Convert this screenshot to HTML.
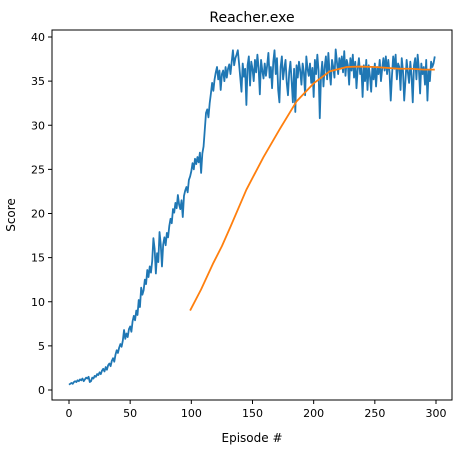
<!DOCTYPE html>
<html><head><meta charset="utf-8"><style>
body{margin:0;background:#fff;}
svg{display:block;font-family:"DejaVu Sans","Liberation Sans",sans-serif;}
</style></head><body>
<svg id="chart" width="467" height="450" xmlns="http://www.w3.org/2000/svg">
<rect width="467" height="450" fill="#fff"/>
<g id="plot"></g>
<text x="252" y="22" text-anchor="middle" font-size="14" fill="#000">Reacher.exe</text>
<text x="252" y="442" text-anchor="middle" font-size="12" fill="#000">Episode #</text>
<text x="15" y="215" text-anchor="middle" font-size="12" fill="#000" transform="rotate(-90 15 215)">Score</text>
</svg>
<script>
const scores = [
0.6,0.7,0.8,0.7,0.9,1.0,0.9,1.1,1.0,1.2,1.1,1.3,1.0,1.2,1.4,1.3,1.5,0.9,1.0,1.4,
1.3,1.6,1.5,1.8,1.7,2.0,1.8,2.2,2.4,2.1,2.6,2.3,2.8,3.0,2.7,3.3,3.6,3.2,4.0,4.5,
4.2,4.8,5.2,4.9,5.6,6.8,5.8,6.4,6.0,6.9,7.2,6.6,7.8,8.4,7.9,9.0,8.5,10.2,9.4,11.6,
10.8,11.3,12.5,12.0,13.6,12.8,14.0,13.3,14.6,17.2,16.0,13.2,15.5,14.5,17.9,16.5,14.0,16.5,17.3,16.4,
17.8,17.3,18.6,19.4,18.9,20.5,20.1,21.2,20.6,22.1,21.0,20.5,21.5,19.6,22.0,22.6,23.0,22.4,23.8,24.2,
24.8,25.7,25.0,26.2,25.6,26.4,25.8,26.9,24.6,26.8,27.6,29.5,31.4,31.8,30.9,32.5,33.6,34.8,33.9,35.2,
36.0,36.6,35.2,36.2,34.0,35.8,36.2,35.0,36.6,35.4,36.4,36.9,35.8,37.2,38.5,36.8,37.6,38.0,38.5,37.0,
35.4,33.8,37.0,35.5,36.4,32.3,36.8,37.8,34.5,37.2,36.4,35.0,37.4,36.0,38.0,36.5,33.5,37.4,36.2,35.3,
37.0,35.6,36.8,38.2,35.4,36.6,34.2,37.2,38.5,35.8,37.6,34.0,32.6,36.6,37.8,35.2,36.4,37.4,34.8,33.4,
36.0,37.2,35.0,32.6,36.4,31.5,36.8,35.4,37.2,36.2,34.6,37.0,36.0,33.4,37.8,36.4,35.6,37.0,34.8,36.5,
33.2,37.4,35.8,38.0,36.2,30.8,35.6,37.2,34.4,36.6,37.8,35.2,38.2,36.0,34.6,37.4,36.6,35.4,38.6,37.2,
35.8,37.6,36.4,37.8,36.0,38.4,35.6,37.4,36.8,34.6,37.6,36.2,38.0,35.4,37.2,34.2,36.4,37.6,35.8,36.6,
33.2,36.8,35.0,37.4,34.0,36.8,35.6,33.8,36.6,35.2,37.0,34.4,36.6,35.8,37.4,35.0,36.4,37.6,36.2,37.8,
35.8,37.4,36.0,32.8,35.6,37.8,36.4,38.0,35.2,37.0,36.6,34.0,37.6,36.2,32.8,35.0,37.4,36.0,34.8,37.2,
35.6,32.6,36.8,37.6,35.2,38.0,36.4,33.6,37.0,35.8,36.6,34.6,37.4,32.8,36.2,35.0,37.2,36.6,37.0,37.8];
const avgEpisodes = [99,108,118,125,132,145,159,172,186,200,213,227,238,250,260,270,280,290,299];
const avgValues = [9.0,11.4,14.4,16.3,18.5,22.7,26.4,29.5,32.7,34.75,36.1,36.6,36.65,36.6,36.5,36.4,36.4,36.3,36.3];
const xTicks = [0,50,100,150,200,250,300];
const yTicks = [0,5,10,15,20,25,30,35,40];

const X0=52,X1=452,Y0=400,Y1=30;
const sx=v=>69+v*(436-69)/300;
const sy=v=>390-v*(390-37)/40;
const NS='http://www.w3.org/2000/svg';
const plot=document.getElementById('plot');
function mk(t,a){const e=document.createElementNS(NS,t);for(const k in a)e.setAttribute(k,a[k]);plot.appendChild(e);return e;}

const frame=mk('rect',{x:X0,y:Y1,width:X1-X0,height:Y0-Y1,fill:'none',stroke:'#000','stroke-width':1});



xTicks.forEach(t=>{
  const l=mk('line',{x1:sx(t),x2:sx(t),y1:Y0,y2:Y0+4,stroke:'#000'});
  
  
  const tx=mk('text',{x:sx(t),y:Y0+17,'text-anchor':'middle','font-size':11});
  tx.textContent=t;
  
  
});
yTicks.forEach(t=>{
  const l=mk('line',{x1:X0-4,x2:X0,y1:sy(t),y2:sy(t),stroke:'#000'});
  
  
  const tx=mk('text',{x:X0-7,y:sy(t)+4,'text-anchor':'end','font-size':11});
  tx.textContent=t;
  
  
});

const bl=mk('polyline',{points:scores.map((v,i)=>sx(i)+','+sy(v)).join(' '),fill:'none',stroke:'#1f77b4','stroke-width':1.8,'stroke-linejoin':'round'});


const ol=mk('polyline',{points:avgValues.map((v,i)=>sx(avgEpisodes[i])+','+sy(v)).join(' '),fill:'none',stroke:'#ff7f0e','stroke-width':1.8,'stroke-linejoin':'round'});


</script>
</body></html>
